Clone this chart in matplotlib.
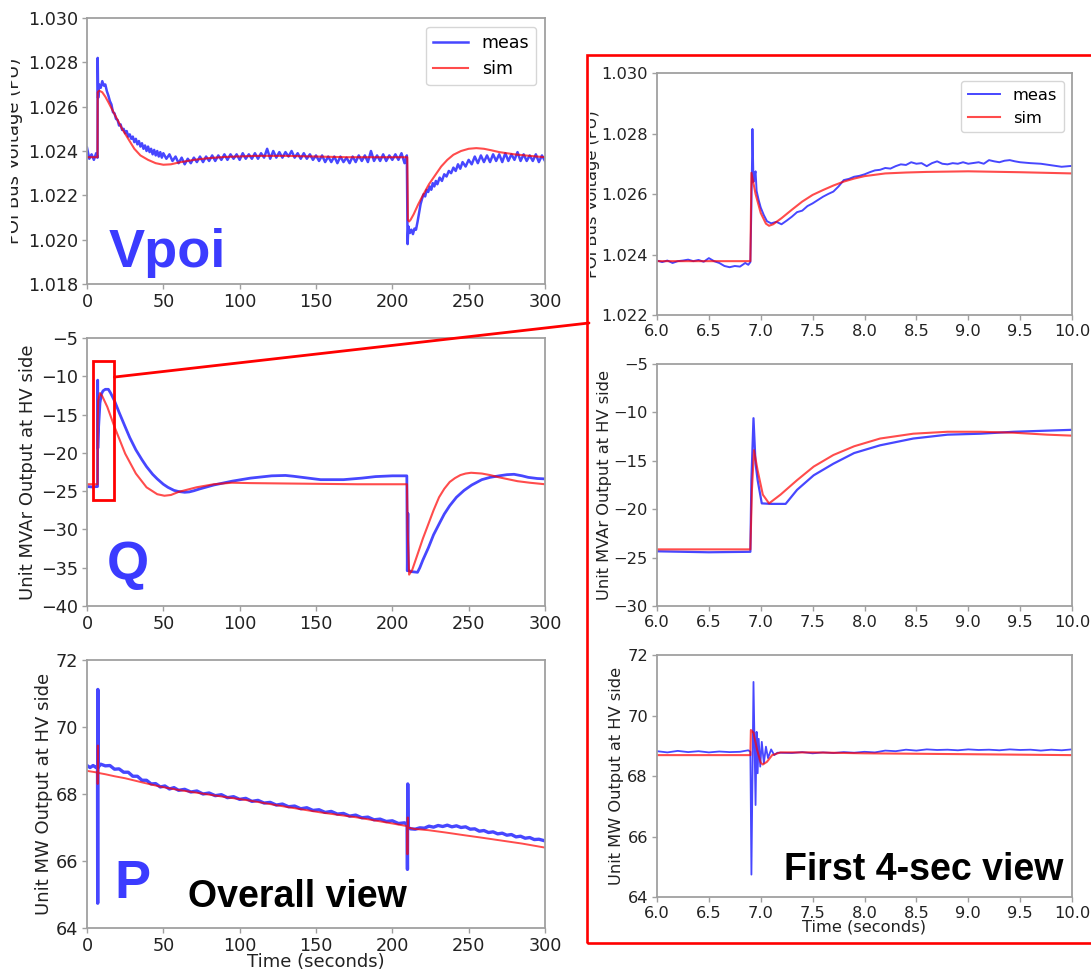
import matplotlib
matplotlib.use('Agg')
import matplotlib.pyplot as plt
from matplotlib.patches import Rectangle, ConnectionPatch
from matplotlib.transforms import Bbox, TransformedBbox

# ---------------- data: overall view (0-300 s) ----------------
VM_T = [0, 1.5, 3, 4.5, 6, 6.9, 7.0, 7.3, 8, 9,
        10, 11, 12, 13, 14, 15, 16, 17, 18, 19,
        20, 21, 22, 23, 24, 25, 26, 27, 28, 29,
        30, 31, 32, 33, 34, 35, 36, 37, 38, 39,
        40, 41, 42, 43, 44, 45, 46, 47, 48, 49,
        50, 52, 54, 56, 58, 60, 62, 64, 66, 68,
        70, 72, 74, 76, 78, 80, 82, 84, 86, 88,
        90, 92, 94, 96, 98, 100, 102, 104, 106, 108,
        110, 112, 114, 116, 118, 120, 122, 124, 126, 128,
        130, 132, 134, 136, 138, 140, 142, 144, 146, 148,
        150, 152, 154, 156, 158, 160, 162, 164, 166, 168,
        170, 172, 174, 176, 178, 180, 182, 184, 186, 188,
        190, 192, 194, 196, 198, 200, 202, 204, 206, 208,
        209.5, 210, 210.5, 211.5, 212.5, 213.5, 214.5, 215.5, 216.5, 217.5,
        218.5, 219.5, 220.5, 221.5, 222.5, 223.5, 224.5, 225.5, 226.5, 227.5,
        228.5, 229.5, 231, 232.5, 234, 235.5, 237, 238.5, 240, 241.5,
        243, 244.5, 246, 248, 250, 252, 254, 256, 258, 260,
        262, 264, 266, 268, 270, 272, 274, 276, 278, 280,
        282, 284, 286, 288, 290, 292, 294, 296, 298, 300]
VM_V = [1.02415, 1.02365, 1.02385, 1.02360, 1.02390, 1.02370, 1.02820, 1.02640, 1.02700, 1.02685,
        1.02715, 1.02695, 1.02700, 1.02670, 1.02650, 1.02625, 1.02610, 1.02575, 1.02570, 1.02545,
        1.02540, 1.02515, 1.02520, 1.02495, 1.02500, 1.02480, 1.02490, 1.02465, 1.02475, 1.02455,
        1.02465, 1.02440, 1.02455, 1.02430, 1.02445, 1.02420, 1.02435, 1.02410, 1.02425, 1.02400,
        1.02420, 1.02395, 1.02410, 1.02385, 1.02405, 1.02380, 1.02400, 1.02375, 1.02395, 1.02370,
        1.02390, 1.02365, 1.02385, 1.02355, 1.02375, 1.02345, 1.02370, 1.02340, 1.02365, 1.02345,
        1.02370, 1.02350, 1.02375, 1.02350, 1.02375, 1.02355, 1.02380, 1.02355, 1.02380, 1.02360,
        1.02385, 1.02360, 1.02385, 1.02365, 1.02385, 1.02360, 1.02390, 1.02365, 1.02385, 1.02365,
        1.02390, 1.02365, 1.02390, 1.02370, 1.02410, 1.02365, 1.02400, 1.02370, 1.02395, 1.02370,
        1.02395, 1.02375, 1.02400, 1.02370, 1.02390, 1.02365, 1.02390, 1.02365, 1.02385, 1.02360,
        1.02380, 1.02355, 1.02380, 1.02350, 1.02375, 1.02350, 1.02375, 1.02345, 1.02375, 1.02350,
        1.02370, 1.02345, 1.02375, 1.02350, 1.02380, 1.02355, 1.02380, 1.02350, 1.02400, 1.02355,
        1.02380, 1.02355, 1.02385, 1.02355, 1.02380, 1.02360, 1.02385, 1.02360, 1.02390, 1.02345,
        1.02380, 1.01980, 1.02060, 1.02030, 1.02045, 1.02025, 1.02050, 1.02045, 1.02080, 1.02120,
        1.02160, 1.02185, 1.02205, 1.02195, 1.02225, 1.02215, 1.02240, 1.02225, 1.02255, 1.02240,
        1.02265, 1.02250, 1.02280, 1.02265, 1.02295, 1.02285, 1.02310, 1.02300, 1.02325, 1.02310,
        1.02340, 1.02320, 1.02350, 1.02330, 1.02360, 1.02340, 1.02375, 1.02345, 1.02380, 1.02350,
        1.02380, 1.02350, 1.02385, 1.02355, 1.02385, 1.02350, 1.02390, 1.02355, 1.02385, 1.02360,
        1.02395, 1.02355, 1.02385, 1.02355, 1.02380, 1.02355, 1.02385, 1.02350, 1.02380, 1.02355]

VS_T = [0, 6.9, 7.0, 8, 10, 12, 14, 17, 20, 23,
        27, 31, 35, 40, 45, 50, 55, 60, 70, 80,
        90, 110, 130, 150, 170, 190, 209.8, 210.2, 211, 212,
        214, 217, 220, 224, 228, 232, 236, 240, 245, 250,
        255, 260, 265, 270, 280, 290, 300]
VS_V = [1.02372, 1.02372, 1.02665, 1.02672, 1.02665, 1.02645, 1.0262, 1.0258, 1.0254, 1.0250,
        1.02455, 1.0241, 1.0238, 1.0236, 1.02345, 1.02338, 1.02340, 1.02348, 1.02360, 1.02368,
        1.02373, 1.02378, 1.02378, 1.02375, 1.02372, 1.02372, 1.02372, 1.02090, 1.02082, 1.02090,
        1.02115, 1.0216, 1.0220, 1.0225, 1.0229, 1.0233, 1.02360, 1.02383, 1.02400, 1.02410,
        1.02413, 1.02410, 1.02403, 1.02395, 1.02385, 1.02378, 1.02372]

QM_T = [0, 3, 6.9, 7.0, 7.1, 7.5, 8.5, 9.5, 10.5, 12,
        14, 15.5, 18, 21, 25, 28, 32, 36, 39, 43,
        46, 50, 53, 57, 60, 64, 67, 70, 74, 83,
        95, 107, 121, 130, 135, 145, 153, 168, 180, 189,
        200, 209.5, 209.8, 210.2, 210.5, 212, 216.5, 218, 220, 223.6,
        227, 230.6, 234, 237.6, 242, 247, 252, 258.6, 264, 270,
        275, 279.7, 285, 289, 295, 300]
QM_V = [-24.4, -24.45, -24.4, -10.5, -19.4, -17.0, -13.5, -12.3, -11.9, -11.7,
        -11.7, -12.2, -13.2, -14.7, -16.6, -18.0, -19.6, -20.9, -21.8, -22.8,
        -23.4, -24.1, -24.5, -24.9, -25.05, -25.15, -25.1, -24.95, -24.7, -24.2,
        -23.7, -23.3, -23.0, -22.95, -23.05, -23.3, -23.5, -23.5, -23.3, -23.1,
        -23.0, -23.0, -35.4, -27.9, -35.3, -35.5, -35.6, -35.0, -34.0, -32.4,
        -30.7, -29.3, -28.0, -26.9, -25.8, -24.9, -24.2, -23.5, -23.2, -23.0,
        -22.85, -22.8, -23.0, -23.2, -23.35, -23.4]

QS_T = [0, 6.9, 7.0, 7.3, 8.5, 10, 13.3, 18, 25, 32,
        39, 46, 50.7, 55, 60, 71.7, 83, 95, 107, 130,
        177, 209.6, 210, 211, 213, 216.6, 220, 223.6, 227, 230.6,
        234, 237.6, 241, 244.6, 248, 251.6, 258.6, 264, 270, 276,
        282, 290, 300]
QS_V = [-24.1, -24.1, -16.0, -13.2, -12.2, -12.6, -14.0, -16.6, -20.1, -22.7,
        -24.5, -25.4, -25.6, -25.5, -25.1, -24.5, -24.1, -23.9, -23.95, -24.0,
        -24.1, -24.1, -30.0, -35.9, -35.3, -33.2, -31.2, -29.3, -27.5, -25.8,
        -24.7, -23.8, -23.3, -22.9, -22.7, -22.6, -22.7, -22.9, -23.2, -23.45,
        -23.7, -23.9, -24.1]

PM_T = [0, 2, 4, 6, 6.9, 7.0, 7.1, 7.3, 9, 12,
        15, 18, 21, 24, 27, 30, 33, 36, 39, 42,
        45, 48, 51, 54, 57, 60, 64, 68, 72, 76,
        80, 84, 88, 92, 96, 100, 104, 108, 112, 116,
        120, 124, 128, 132, 136, 140, 144, 148, 152, 156,
        160, 164, 168, 172, 176, 180, 184, 188, 192, 196,
        200, 204, 208, 209.7, 209.9, 210.1, 210.3, 212, 215, 218,
        221, 224, 227, 230, 233, 236, 239, 242, 245, 248,
        251, 254, 257, 260, 263, 266, 269, 272, 275, 278,
        281, 284, 287, 290, 293, 296, 300]
PM_V = [68.85, 68.79, 68.85, 68.79, 68.82, 64.74, 71.12, 68.80, 68.89, 68.84,
        68.85, 68.74, 68.75, 68.65, 68.65, 68.53, 68.53, 68.41, 68.41, 68.30,
        68.31, 68.21, 68.24, 68.15, 68.19, 68.11, 68.14, 68.06, 68.09, 68.00,
        68.03, 67.95, 67.98, 67.89, 67.92, 67.84, 67.87, 67.78, 67.81, 67.73,
        67.75, 67.67, 67.70, 67.62, 67.64, 67.56, 67.59, 67.51, 67.53, 67.45,
        67.48, 67.40, 67.42, 67.34, 67.37, 67.29, 67.31, 67.23, 67.25, 67.18,
        67.20, 67.12, 67.14, 67.08, 65.75, 68.30, 67.00, 66.96, 66.95, 66.99,
        66.98, 67.04, 67.01, 67.06, 67.03, 67.07, 67.02, 67.05, 67.00, 67.02,
        66.95, 66.96, 66.89, 66.91, 66.85, 66.87, 66.81, 66.83, 66.77, 66.79,
        66.72, 66.74, 66.68, 66.70, 66.64, 66.65, 66.60]

PS_T = [0, 6.9, 7.0, 7.1, 7.3, 12, 18, 25, 36.7, 48,
        60, 83, 107, 130, 153, 177, 200, 209.7, 209.9, 210.1,
        210.3, 214, 223.6, 235, 247, 258, 270, 285, 300]
PS_V = [68.69, 68.64, 68.30, 69.45, 68.63, 68.59, 68.53, 68.47, 68.34, 68.22,
        68.12, 67.96, 67.80, 67.62, 67.45, 67.30, 67.12, 67.04, 66.20, 67.30,
        67.0, 66.96, 66.92, 66.85, 66.77, 66.70, 66.62, 66.52, 66.40]

# ---------------- data: first 4-sec view (6-10 s) ----------------
RVM_T = [6.00, 6.05, 6.10, 6.15, 6.20, 6.25, 6.30, 6.35, 6.40, 6.45,
         6.50, 6.55, 6.60, 6.65, 6.70, 6.75, 6.80, 6.85, 6.88, 6.90,
         6.91, 6.92, 6.93, 6.94, 6.95, 6.96, 6.98, 7.00, 7.03, 7.06,
         7.10, 7.15, 7.20, 7.25, 7.30, 7.35, 7.40, 7.45, 7.50, 7.55,
         7.60, 7.65, 7.70, 7.75, 7.80, 7.85, 7.90, 7.95, 8.00, 8.05,
         8.10, 8.15, 8.20, 8.25, 8.30, 8.35, 8.40, 8.45, 8.50, 8.55,
         8.60, 8.65, 8.70, 8.75, 8.80, 8.85, 8.90, 8.95, 9.00, 9.10,
         9.15, 9.20, 9.25, 9.30, 9.35, 9.40, 9.45, 9.50, 9.60, 9.70,
         9.80, 9.90, 10.00]
RVM_V = [1.02380, 1.02375, 1.02380, 1.02372, 1.02378, 1.02380, 1.02383, 1.02378, 1.02382, 1.02376,
         1.02388, 1.02378, 1.02372, 1.02362, 1.02358, 1.02362, 1.02360, 1.02372, 1.02366, 1.02375,
         1.02560, 1.02815, 1.02640, 1.02660, 1.02675, 1.02610, 1.02580, 1.02555, 1.02530, 1.02510,
         1.02503, 1.02508, 1.02500, 1.02512, 1.02525, 1.02540, 1.02545, 1.02560, 1.02569, 1.02580,
         1.02591, 1.02600, 1.02608, 1.02625, 1.02646, 1.02650, 1.02657, 1.02660, 1.02665, 1.02672,
         1.02678, 1.02680, 1.02686, 1.02684, 1.02692, 1.02698, 1.02696, 1.02705, 1.02700, 1.02702,
         1.02692, 1.02702, 1.02708, 1.02700, 1.02698, 1.02702, 1.02700, 1.02705, 1.02700, 1.02705,
         1.02700, 1.02712, 1.02708, 1.02705, 1.02710, 1.02712, 1.02708, 1.02705, 1.02702, 1.02700,
         1.02695, 1.02690, 1.02693]

RVS_T = [6.0, 6.9, 6.91, 6.95, 7.0, 7.05, 7.08, 7.12, 7.2, 7.3,
         7.4, 7.5, 7.6, 7.7, 7.8, 7.9, 8.0, 8.2, 8.4, 8.6,
         9.0, 9.5, 10.0]
RVS_V = [1.02378, 1.02378, 1.02670, 1.02600, 1.02537, 1.02502, 1.02495, 1.02500, 1.02520, 1.02548,
         1.02575, 1.02597, 1.02613, 1.02628, 1.02641, 1.02651, 1.02659, 1.02668, 1.02671, 1.02673,
         1.02675, 1.02672, 1.02668]

RQM_T = [6.0, 6.5, 6.9, 6.91, 6.93, 6.95, 6.97, 7.01, 7.1, 7.24,
         7.35, 7.51, 7.7, 7.9, 8.15, 8.47, 8.8, 9.12, 9.44, 10.0]
RQM_V = [-24.35, -24.45, -24.4, -17.0, -10.6, -15.3, -17.0, -19.4, -19.45, -19.45,
         -18.0, -16.5, -15.3, -14.2, -13.4, -12.7, -12.3, -12.2, -12.0, -11.8]

RQS_T = [6.0, 6.9, 6.915, 6.935, 6.97, 7.02, 7.08, 7.19, 7.35, 7.51,
         7.7, 7.9, 8.15, 8.47, 8.8, 9.12, 9.44, 9.76, 10.0]
RQS_V = [-24.15, -24.15, -18.0, -13.9, -16.0, -18.5, -19.4, -18.5, -17.0, -15.6,
         -14.4, -13.5, -12.7, -12.2, -12.0, -12.0, -12.1, -12.3, -12.4]

RPM_T = [6.0, 6.1, 6.2, 6.3, 6.4, 6.5, 6.6, 6.7, 6.8, 6.88,
         6.9, 6.91, 6.93, 6.95, 6.96, 6.97, 6.98, 6.995, 7.01, 7.03,
         7.05, 7.07, 7.1, 7.13, 7.16, 7.3, 7.4, 7.5, 7.6, 7.7,
         7.8, 7.9, 8.0, 8.1, 8.2, 8.3, 8.4, 8.5, 8.6, 8.7,
         8.8, 8.9, 9.0, 9.1, 9.2, 9.3, 9.4, 9.5, 9.6, 9.7,
         9.8, 9.9, 10.0]
RPM_V = [68.82, 68.78, 68.83, 68.79, 68.82, 68.78, 68.81, 68.79, 68.80, 68.85,
         68.80, 64.74, 71.11, 67.04, 69.46, 68.09, 69.23, 68.31, 69.13, 68.42,
         68.97, 68.59, 68.88, 68.69, 68.77, 68.76, 68.79, 68.75, 68.78, 68.76,
         68.79, 68.77, 68.80, 68.78, 68.84, 68.82, 68.87, 68.84, 68.88, 68.86,
         68.87, 68.85, 68.88, 68.86, 68.87, 68.85, 68.88, 68.86, 68.87, 68.84,
         68.87, 68.85, 68.88]

RPS_T = [6.0, 6.9, 6.905, 6.93, 6.965, 7.0, 7.02, 7.06, 7.11, 7.19,
         7.5, 8.0, 9.0, 10.0]
RPS_V = [68.69, 68.69, 69.52, 69.43, 68.86, 68.44, 68.38, 68.47, 68.69, 68.78,
         68.78, 68.75, 68.72, 68.69]

SERIES_LABELS = ['meas', 'sim']
LEFT_XTICKS = [0, 50, 100, 150, 200, 250, 300]
RIGHT_XTICKS = [6.0, 6.5, 7.0, 7.5, 8.0, 8.5, 9.0, 9.5, 10.0]
VL_TICKS = [1.018, 1.020, 1.022, 1.024, 1.026, 1.028, 1.030]
VR_TICKS = [1.022, 1.024, 1.026, 1.028, 1.030]
QL_TICKS = [-40, -35, -30, -25, -20, -15, -10, -5]
QR_TICKS = [-30, -25, -20, -15, -10, -5]
P_TICKS = [64, 66, 68, 70, 72]
YLAB_V = 'POI Bus Voltage (PU)'
YLAB_Q = 'Unit MVAr Output at HV side'
YLAB_P = 'Unit MW Output at HV side'
XLAB = 'Time (seconds)'

# ---------------- figure ----------------
W, H = 1091, 971
fig = plt.figure(figsize=(W / 100, H / 100), dpi=100)
fig.patch.set_facecolor('white')

BLUE = (0, 0, 1, 0.72)
RED = (1, 0, 0, 0.7)
TXT_BLUE = '#3b3bff'


def fx(x):
    return x / W


def fy(y):
    return 1 - y / H


def ax_px(x0, y0, x1, y1):
    return fig.add_axes([x0 / W, 1 - y1 / H, (x1 - x0) / W, (y1 - y0) / H])


def style(ax, fs):
    for s in ax.spines.values():
        s.set_color('#a0a0a0')
        s.set_linewidth(1.3)
    ax.tick_params(direction='out', length=3.5, width=1, color='#a0a0a0',
                   labelsize=fs, labelcolor='#222222', pad=3)


def ftext(x, y, s, fs, rot=0, clipx=None, **kw):
    t = fig.text(fx(x), fy(y), s, fontsize=fs, rotation=rot, ha='center',
                 va='center', color='#222222', **kw)
    if clipx is not None:
        bb = TransformedBbox(Bbox.from_extents(fx(clipx), 0, 1, 1), fig.transFigure)
        t.set_clip_box(bb)
        t.set_clip_on(True)
    return t


axV = ax_px(87, 18, 545, 284)
axQ = ax_px(87, 338, 545, 606)
axP = ax_px(87, 660, 545, 928)
rV = ax_px(657, 73, 1072, 315)
rQ = ax_px(657, 364, 1072, 606)
rP = ax_px(657, 655, 1072, 897)

# left column
axV.plot(VM_T, VM_V, color=BLUE, lw=1.8, label=SERIES_LABELS[0])
axV.plot(VS_T, VS_V, color=RED, lw=1.5, label=SERIES_LABELS[1])
axQ.plot(QM_T, QM_V, color=BLUE, lw=2.0)
axQ.plot(QS_T, QS_V, color=RED, lw=1.5)
axP.plot(PM_T, PM_V, color=BLUE, lw=2.4)
axP.plot(PS_T, PS_V, color=RED, lw=1.4)

for ax, yt, fmt in [(axV, VL_TICKS, '{:.3f}'), (axQ, QL_TICKS, '{:d}'), (axP, P_TICKS, '{:d}')]:
    ax.set_xlim(LEFT_XTICKS[0], LEFT_XTICKS[-1])
    ax.set_xticks(LEFT_XTICKS)
    ax.set_ylim(yt[0], yt[-1])
    ax.set_yticks(yt)
    ax.set_yticklabels([fmt.format(v).replace('-', '\u2212') for v in yt])
    style(ax, 12.7)

axV.legend(loc='upper right', fontsize=12.5)

# right column
rV.plot(RVM_T, RVM_V, color=BLUE, lw=1.4, label=SERIES_LABELS[0])
rV.plot(RVS_T, RVS_V, color=RED, lw=1.5, label=SERIES_LABELS[1])
rQ.plot(RQM_T, RQM_V, color=BLUE, lw=1.6)
rQ.plot(RQS_T, RQS_V, color=RED, lw=1.5)
rP.plot(RPM_T, RPM_V, color=BLUE, lw=1.3)
rP.plot(RPS_T, RPS_V, color=RED, lw=1.5)

for ax, yt, fmt in [(rV, VR_TICKS, '{:.3f}'), (rQ, QR_TICKS, '{:d}'), (rP, P_TICKS, '{:d}')]:
    ax.set_xlim(RIGHT_XTICKS[0], RIGHT_XTICKS[-1])
    ax.set_xticks(RIGHT_XTICKS)
    ax.set_xticklabels(['{:.1f}'.format(v) for v in RIGHT_XTICKS])
    ax.set_ylim(yt[0], yt[-1])
    ax.set_yticks(yt)
    ax.set_yticklabels([fmt.format(v).replace('-', '\u2212') for v in yt])
    style(ax, 11.7)

rV.legend(loc='upper right', fontsize=11.7)

# axis labels
ftext(14, 151, YLAB_V, 13, rot=90, clipx=11)
ftext(28, 472, YLAB_Q, 13, rot=90)
ftext(44, 794, YLAB_P, 13, rot=90)
ftext(316, 962, XLAB, 13)
ftext(592, 194, YLAB_V, 11.7, rot=90, clipx=590)
ftext(605, 485, YLAB_Q, 11.7, rot=90)
ftext(617, 776, YLAB_P, 11.7, rot=90)
ftext(864, 927, XLAB, 11.7)

# big annotations
BIG = dict(family='Liberation Sans', weight='bold', ha='left', va='baseline')
fig.text(fx(109), fy(267), 'Vpoi', fontsize=39, color=TXT_BLUE, **BIG)
fig.text(fx(107), fy(579), 'Q', fontsize=39, color=TXT_BLUE, **BIG)
fig.text(fx(114), fy(898), 'P', fontsize=39, color=TXT_BLUE, **BIG)
fig.text(fx(188), fy(907), 'Overall view', fontsize=27, color='black', **BIG)
fig.text(fx(784), fy(880), 'First 4-sec view', fontsize=27, color='black', **BIG)

# zoom box, connector, frame
axQ.add_patch(Rectangle((3.7, -26.2), 14.3, 18.2, fill=False, ec='red', lw=2.0,
                        clip_on=False, zorder=5))
con = ConnectionPatch(xyA=(18.0, -10.1), coordsA='data', axesA=axQ,
                      xyB=(fx(589), fy(323)), coordsB='figure fraction',
                      color='red', lw=2.0)
fig.add_artist(con)
fig.add_artist(Rectangle((fx(587), fy(943)), fx(1100) - fx(587), fy(55) - fy(943),
                         transform=fig.transFigure, fill=False, ec='red', lw=1.9))

fig.savefig('out.png', dpi=100)
